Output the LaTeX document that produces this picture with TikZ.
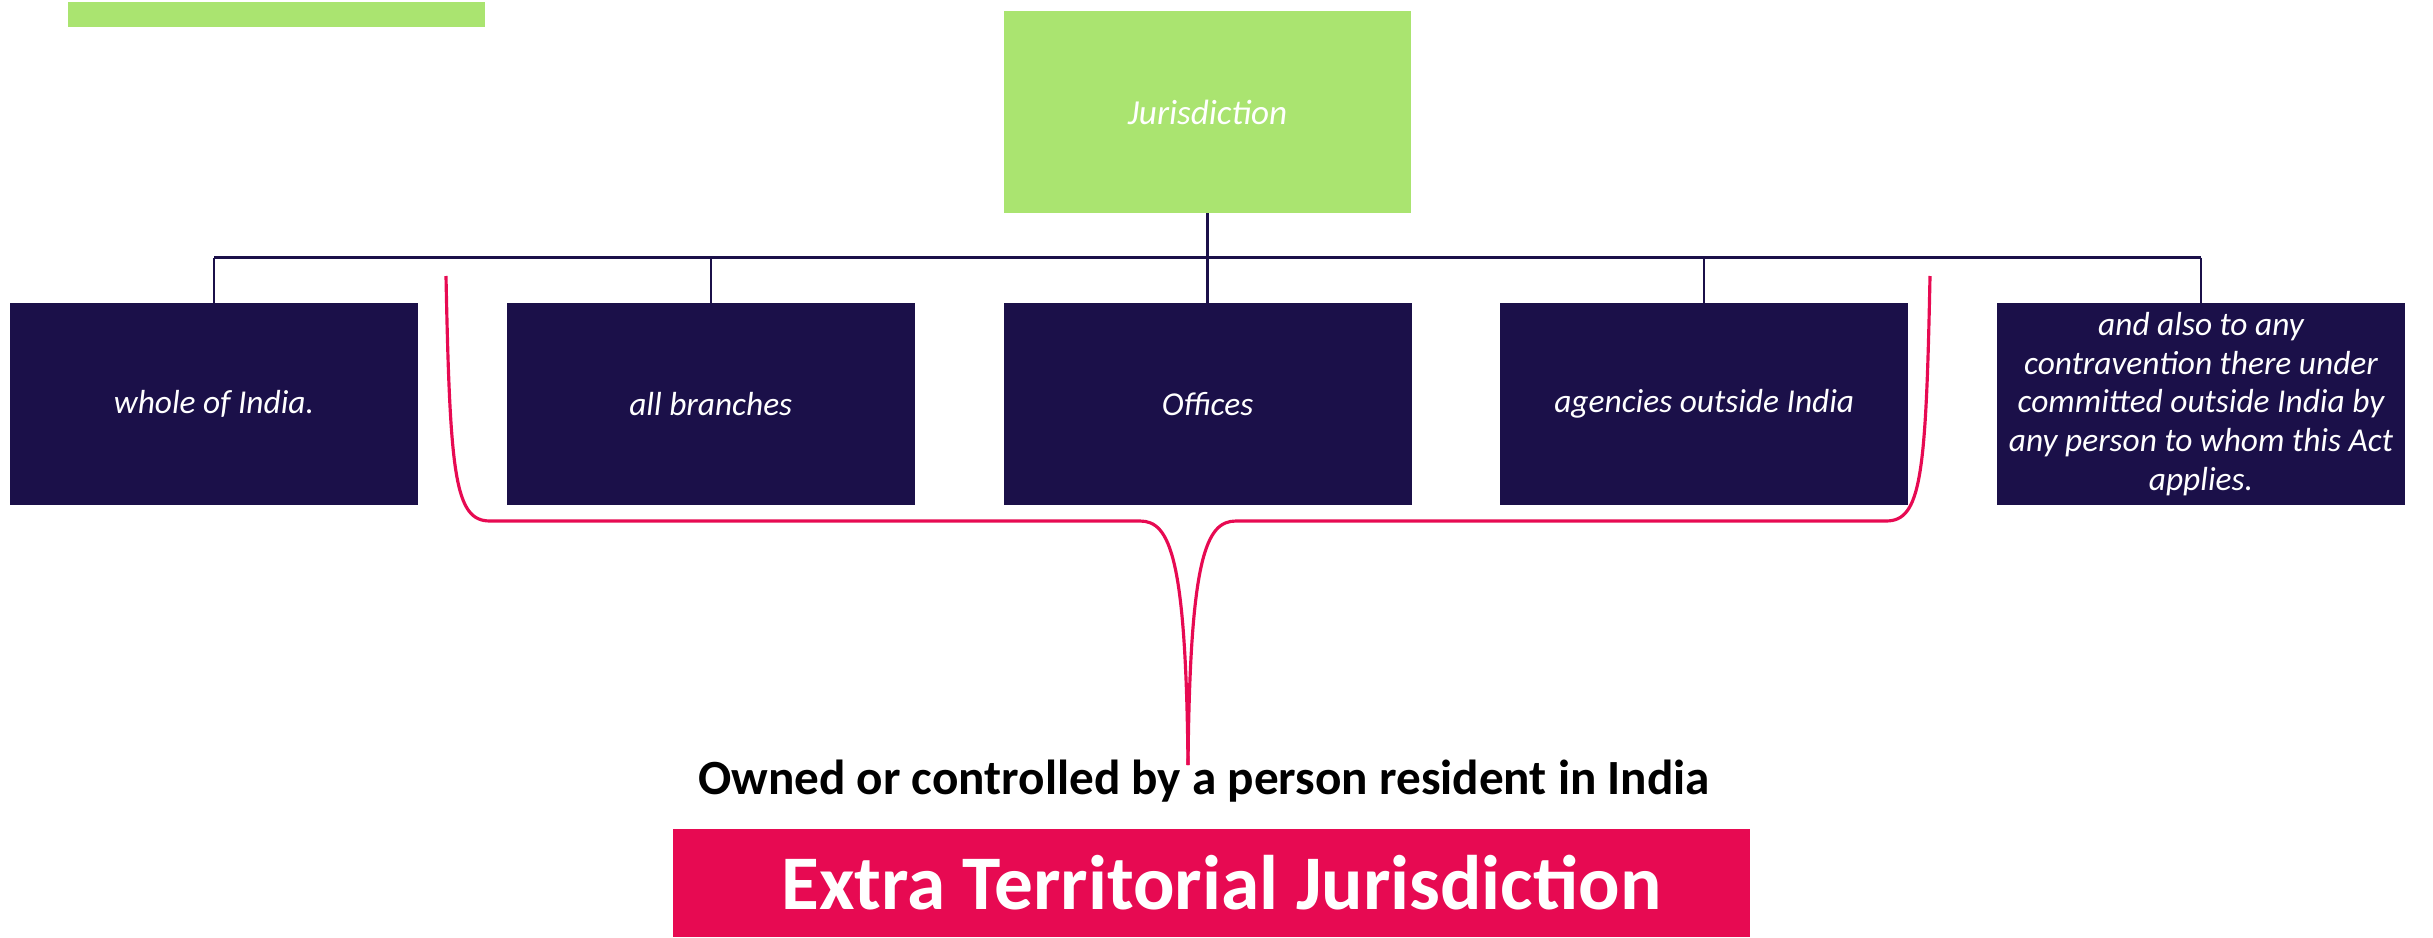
\documentclass[tikz,border=0pt]{standalone}
\usepackage{fontspec}
\setmainfont{Carlito}
\usetikzlibrary{positioning}

\definecolor{navy}{HTML}{1B1049}
\definecolor{leaf}{HTML}{AAE470}
\definecolor{rose}{HTML}{E70A52}

\tikzset{
  headbox/.style={fill=leaf, text=white, minimum width=4.07cm, minimum height=2.02cm, inner sep=0pt, outer sep=0pt, font=\itshape\fontsize{10}{12}\selectfont},
  itembox/.style={fill=navy, text=white, minimum width=4.08cm, minimum height=2.02cm, inner sep=0pt, outer sep=0pt, align=center, font=\itshape\fontsize{9.5}{11}\selectfont},
  tree/.style={draw=navy, line width=0.7pt},
  brace/.style={draw=rose, line width=0.9pt}
}

\begin{document}
\begin{tikzpicture}

\useasboundingbox (0,0) rectangle (24.33,9.37);
% Drawing the green bar in the corner
\fill[leaf] (0.68,9.35) rectangle (4.85,9.10);
% Top box
\node[headbox] (juris) at (12.075,8.25) {Jurisdiction};
% Row of boxes
\node[itembox] (whole) at (2.14,5.33) {whole of India.};
\node[itembox, right=0.8875cm of whole] (branch) {all branches};
\node[itembox, right=0.8875cm of branch] (office) {Offices};
\node[itembox, right=0.8875cm of office] (agency) {agencies outside India};
\node[itembox, right=0.8875cm of agency] (apply) {and also to any\\contravention there under\\committed outside India by\\any person to whom this Act\\applies.};
% Tree lines
\coordinate (bus) at (0,6.793);
\draw[tree] (juris.south) -- (juris.south |- bus);
\draw[tree] (whole.north |- bus) -- (apply.north |- bus);
\foreach \n in {whole,branch,office,agency,apply}
  \draw[tree] (\n.north |- bus) -- (\n.north);
% Brace under the middle boxes
\coordinate (tip) at (11.88,1.72);
\draw[brace] (4.46,6.61) .. controls (4.50,4.6) and (4.55,4.16) .. (4.90,4.16) -- (11.40,4.16) .. controls (11.70,4.16) and (11.86,3.8) .. (tip);
\draw[brace] (19.30,6.61) .. controls (19.26,4.6) and (19.21,4.16) .. (18.86,4.16) -- (12.36,4.16) .. controls (12.06,4.16) and (11.90,3.8) .. (tip);
% Bottom texts
\node[anchor=base, font=\bfseries\fontsize{14}{16}\selectfont] (owned) at (12.04,1.43) {Owned or controlled by a person resident in India};
\node[fill=rose, text=white, minimum width=10.77cm, minimum height=1.08cm, font=\bfseries\fontsize{22}{26}\selectfont] (extra) at (12.115,0.54) {\hspace{0.2cm}Extra Territorial Jurisdiction};

\end{tikzpicture}
\end{document}
